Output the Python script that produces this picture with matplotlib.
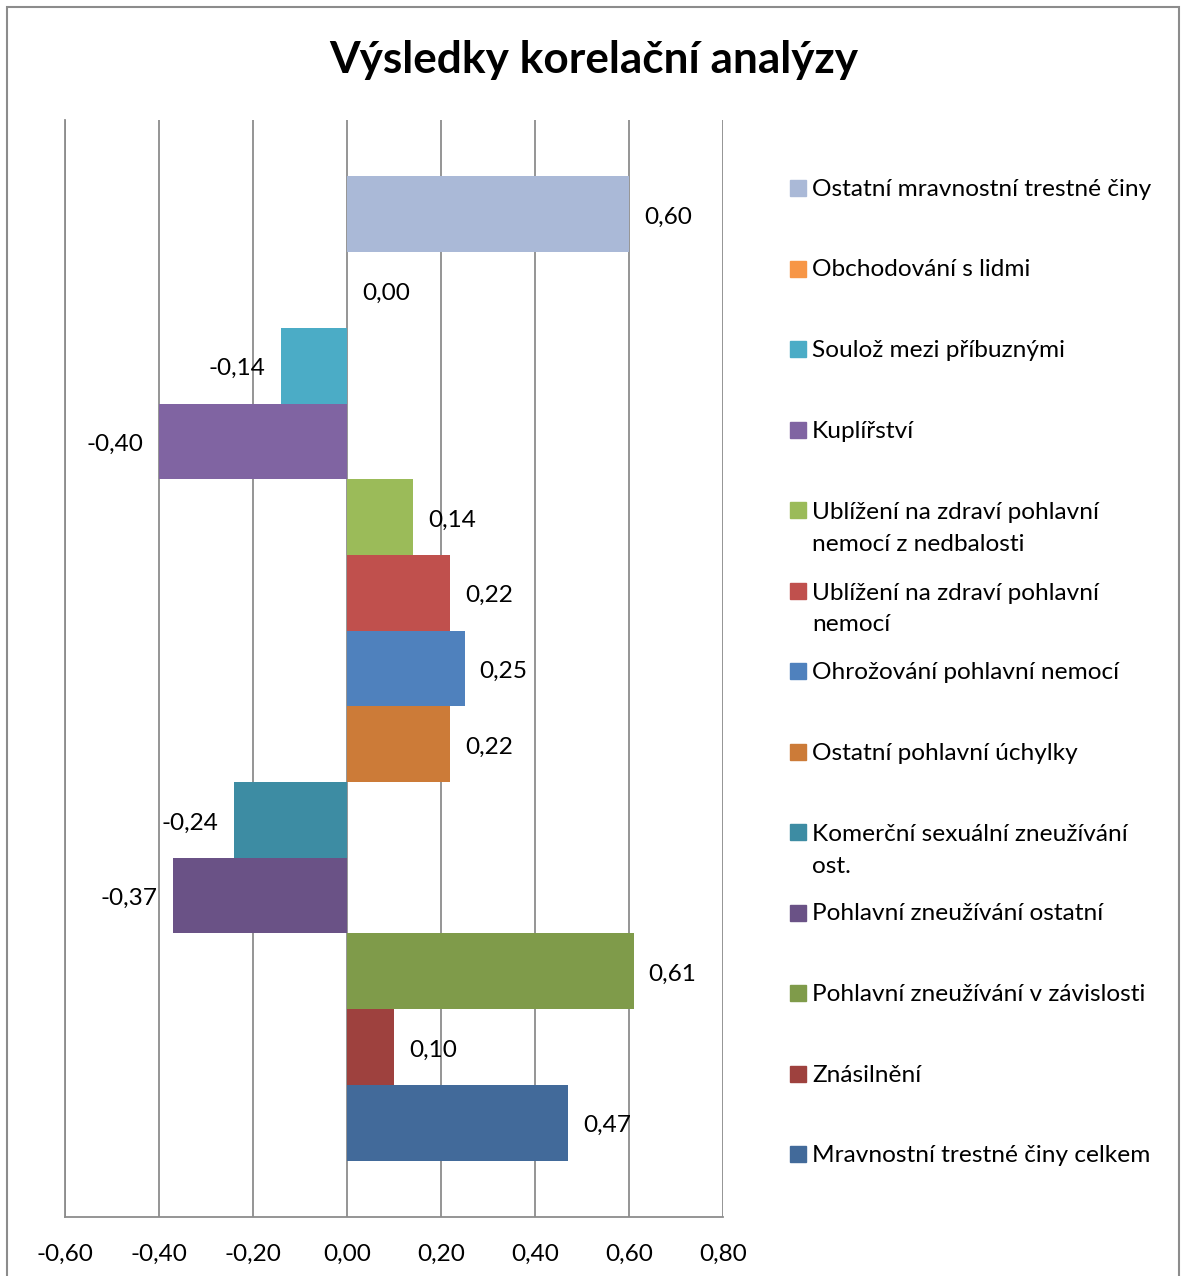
import numpy as np
import matplotlib
matplotlib.use("Agg")
import matplotlib.pyplot as plt
from matplotlib.patches import Rectangle

plt.rcParams['font.family'] = ['Lato', 'DejaVu Sans']

# ---- data (top to bottom as shown) ----
categories = [
    "Ostatní mravnostní trestné činy",
    "Obchodování s lidmi",
    "Soulož mezi příbuznými",
    "Kuplířství",
    "Ublížení na zdraví pohlavní\nnemocí z nedbalosti",
    "Ublížení na zdraví pohlavní\nnemocí",
    "Ohrožování pohlavní nemocí",
    "Ostatní pohlavní úchylky",
    "Komerční sexuální zneužívání\nost.",
    "Pohlavní zneužívání ostatní",
    "Pohlavní zneužívání v závislosti",
    "Znásilnění",
    "Mravnostní trestné činy celkem",
]
values = [0.60, 0.00, -0.14, -0.40, 0.14, 0.22, 0.25, 0.22, -0.24, -0.37, 0.61, 0.10, 0.47]
colors = ["#AAB9D7", "#F79646", "#4BACC6", "#8064A2", "#9BBB59", "#C0504D", "#4F81BD",
          "#CC7B38", "#3D8CA3", "#6A5286", "#7F9B4A", "#9E413E", "#426A9A"]
xticks = [-0.60, -0.40, -0.20, 0.00, 0.20, 0.40, 0.60, 0.80]
title = "Výsledky korelační analýzy"

FS = 17.6
W, H = 1181, 1276
fig = plt.figure(figsize=(W / 100, H / 100), dpi=100)
fig.patch.set_facecolor("white")

# outer border
fig.add_artist(Rectangle((7 / W, -0.01), (1179 - 7) / W, (H - 7) / H + 0.01,
                         transform=fig.transFigure, fill=False, ec="#8C8C8C", lw=1.5))

ax = fig.add_axes([65 / W, (H - 1217) / H, (723 - 65) / W, (1217 - 120) / H])
n = len(values)
pos = np.arange(n)
ax.barh(pos, values, height=1.0, color=colors, zorder=2)
ax.set_ylim(n - 0.5 + 0.745, -0.5 - 0.745)
ax.set_xlim(-0.6, 0.8)
ax.set_yticks([])
ax.set_xticks(xticks)
ax.set_xticklabels([f"{t:.2f}".replace(".", ",") for t in xticks], fontsize=FS)
ax.tick_params(axis="x", length=0, pad=19)
ax.grid(axis="x", color="#8C8C8C", lw=1.3, zorder=0)
ax.set_axisbelow(True)
for s in ["top", "right"]:
    ax.spines[s].set_visible(False)
for s in ["left", "bottom"]:
    ax.spines[s].set_color("#8C8C8C")
    ax.spines[s].set_linewidth(1.3)

for i, v in enumerate(values):
    lab = f"{v:.2f}".replace(".", ",")
    off = 15 if v >= 0 else -16
    ax.annotate(lab, xy=(v, i), xytext=(off, -1), textcoords="offset pixels",
                ha="left" if v >= 0 else "right", va="center_baseline",
                fontsize=FS, zorder=3)

fig.text(594 / W, 1 - 60 / H, title, ha="center", va="center",
         fontsize=31.8, fontweight="bold")

# legend (manual, Excel-like layout)
for i, (c, lab) in enumerate(zip(colors, categories)):
    yc = 188 + 80.5 * i
    fig.add_artist(Rectangle((790 / W, 1 - (yc + 8) / H), 16 / W, 16 / H,
                             transform=fig.transFigure, color=c))
    nl = lab.count("\n")
    fig.text(812 / W, 1 - (yc + 8 + 33 * nl) / H, lab, ha="left", va="baseline",
             fontsize=FS, linespacing=1.62)

fig.savefig("out.png", dpi=100, facecolor="white")
